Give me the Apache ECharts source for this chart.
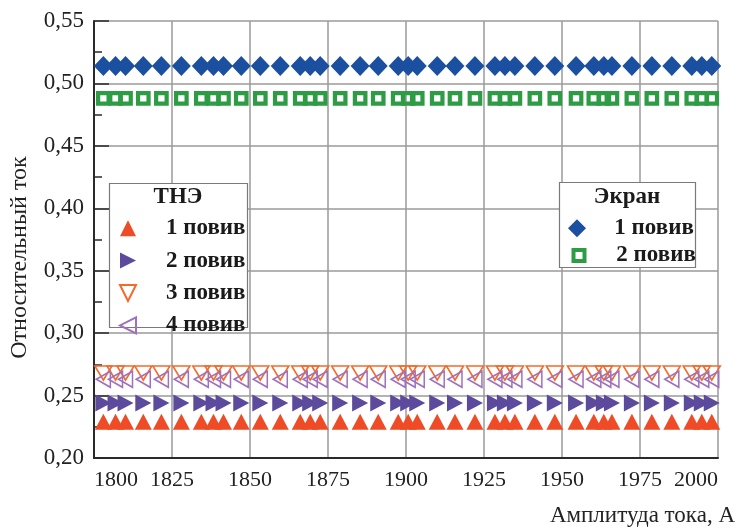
<!DOCTYPE html>
<html>
<head>
<meta charset="utf-8">
<script src="https://cdn.jsdelivr.net/npm/echarts@6/dist/echarts.min.js"></script>
<style>html,body{margin:0;padding:0;background:#fff}#c{width:741px;height:528px}</style>
</head>
<body>
<div id="c"></div>
<script>
// ---- data ----
const xValues = [1803.0, 1806.9, 1810.1, 1815.8, 1821.6, 1828.0, 1834.4, 1838.3, 1841.5, 1847.2,
  1853.3, 1859.7, 1866.1, 1869.3, 1872.5, 1878.9, 1885.3, 1891.1, 1897.5, 1900.7,
  1903.6, 1910.0, 1915.7, 1922.1, 1928.5, 1931.7, 1934.9, 1941.3, 1947.7, 1954.5,
  1960.2, 1963.4, 1966.0, 1972.4, 1978.8, 1985.2, 1991.6, 1994.8, 1998.0];

const tne1 = [0.229,0.229,0.229,0.229,0.229,0.229,0.229,0.229,0.229,0.229,
  0.229,0.229,0.229,0.229,0.229,0.229,0.229,0.229,0.229,0.229,
  0.229,0.229,0.229,0.229,0.229,0.229,0.229,0.229,0.229,0.229,
  0.229,0.229,0.229,0.229,0.229,0.229,0.229,0.229,0.229];
const tne2 = [0.244,0.244,0.244,0.244,0.244,0.244,0.244,0.244,0.244,0.244,
  0.244,0.244,0.244,0.244,0.244,0.244,0.244,0.244,0.244,0.244,
  0.244,0.244,0.244,0.244,0.244,0.244,0.244,0.244,0.244,0.244,
  0.244,0.244,0.244,0.244,0.244,0.244,0.244,0.244,0.244];
const tne3 = [0.268,0.268,0.268,0.268,0.268,0.268,0.268,0.268,0.268,0.268,
  0.268,0.268,0.268,0.268,0.268,0.268,0.268,0.268,0.268,0.268,
  0.268,0.268,0.268,0.268,0.268,0.268,0.268,0.268,0.268,0.268,
  0.268,0.268,0.268,0.268,0.268,0.268,0.268,0.268,0.268];
const tne4 = [0.263,0.263,0.263,0.263,0.263,0.263,0.263,0.263,0.263,0.263,
  0.263,0.263,0.263,0.263,0.263,0.263,0.263,0.263,0.263,0.263,
  0.263,0.263,0.263,0.263,0.263,0.263,0.263,0.263,0.263,0.263,
  0.263,0.263,0.263,0.263,0.263,0.263,0.263,0.263,0.263];
const ekr1 = [0.514,0.514,0.514,0.514,0.514,0.514,0.514,0.514,0.514,0.514,
  0.514,0.514,0.514,0.514,0.514,0.514,0.514,0.514,0.514,0.514,
  0.514,0.514,0.514,0.514,0.514,0.514,0.514,0.514,0.514,0.514,
  0.514,0.514,0.514,0.514,0.514,0.514,0.514,0.514,0.514];
const ekr2 = [0.488,0.488,0.488,0.488,0.488,0.488,0.488,0.488,0.488,0.488,
  0.488,0.488,0.488,0.488,0.488,0.488,0.488,0.488,0.488,0.488,
  0.488,0.488,0.488,0.488,0.488,0.488,0.488,0.488,0.488,0.488,
  0.488,0.488,0.488,0.488,0.488,0.488,0.488,0.488,0.488];

const seriesNames = ['1 повив', '2 повив', '3 повив', '4 повив'];
const ekrNames = ['1 повив ', '2 повив '];
const legendTitles = ['ТНЭ', 'Экран'];
const xAxisTitle = 'Амплитуда тока, А';
const yAxisTitle = 'Относительный ток';

// ---- chart ----
const FONT = 'Liberation Serif, DejaVu Serif, serif';
const pairs = ys => xValues.map((x, i) => [x, ys[i]]);
const TRI_UP = 'path://M5,0L10,10L0,10Z';
const TRI_DOWN = 'path://M0,0L10,0L5,10Z';
const TRI_RIGHT = 'path://M0,0L10,5L0,10Z';
const TRI_LEFT = 'path://M10,0L0,5L10,10Z';
const legendText = pad => ({fontFamily: FONT, fontSize: 23, fontWeight: 'bold', color: '#1a1a1a', lineHeight: 20, padding: [0, 0, 0, pad]});

const chart = echarts.init(document.getElementById('c'), null, {renderer: 'canvas'});
chart.setOption({
  animation: false,
  backgroundColor: '#fff',
  textStyle: {fontFamily: FONT},
  grid: {left: 93.5, right: 23, top: 21, bottom: 70, containLabel: false},
  xAxis: {
    type: 'value', min: 1800, max: 2000, interval: 25,
    name: xAxisTitle, nameLocation: 'end', nameGap: 17,
    nameTextStyle: {fontFamily: FONT, fontSize: 23, color: '#222', align: 'right', verticalAlign: 'top', padding: [46, 0, 0, 0]},
    axisLine: {show: true, lineStyle: {color: '#2a2a2a', width: 2}},
    axisTick: {show: false},
    axisLabel: {fontFamily: FONT, fontSize: 22, color: '#222', margin: 11, formatter: v => String(v),
      alignMinLabel: 'left', alignMaxLabel: 'right'},
    splitLine: {show: true, lineStyle: {color: '#9a9a9a', width: 1.5}}
  },
  yAxis: {
    type: 'value', min: 0.2, max: 0.55, interval: 0.05,
    name: yAxisTitle, nameLocation: 'middle', nameGap: 62, nameRotate: 90,
    nameTextStyle: {fontFamily: FONT, fontSize: 24, color: '#222', padding: [0, 36, 0, 0]},
    axisLine: {show: true, lineStyle: {color: '#2a2a2a', width: 2}},
    axisTick: {show: true, inside: true, length: 15, lineStyle: {color: '#2a2a2a', width: 1.5}},
    minorTick: {show: true, splitNumber: 2, length: 8, lineStyle: {color: '#2a2a2a', width: 1.5}},
    axisLabel: {fontFamily: FONT, fontSize: 23, color: '#222', margin: 10,
      formatter: v => v.toFixed(2).replace('.', ',')},
    splitLine: {show: true, lineStyle: {color: '#9a9a9a', width: 1.5}}
  },
  legend: [
    {
      data: seriesNames, orient: 'vertical', left: 119, top: 216.7, padding: 0,
      itemWidth: 16, itemHeight: 16, itemGap: 9.4, z: 10, selectedMode: false,
      textStyle: legendText(25)
    },
    {
      data: [ekrNames[0]], orient: 'vertical', left: 568, top: 216.7, padding: 0,
      itemWidth: 18, itemHeight: 18, z: 10, selectedMode: false,
      textStyle: legendText(23.3)
    },
    {
      data: [ekrNames[1]], orient: 'vertical', left: 571.5, top: 244, padding: 0,
      itemWidth: 11, itemHeight: 11, z: 10, selectedMode: false,
      itemStyle: {borderWidth: 4},
      textStyle: legendText(26.8)
    }
  ],
  graphic: [
    {type: 'rect', z: 8, shape: {x: 109.5, y: 183.5, width: 138, height: 144},
      style: {fill: '#fff', stroke: '#7a7a7a', lineWidth: 1.2}},
    {type: 'rect', z: 8, shape: {x: 559.5, y: 182.5, width: 136, height: 85},
      style: {fill: '#fff', stroke: '#7a7a7a', lineWidth: 1.2}},
    {type: 'text', z: 10, style: {text: legendTitles[0], x: 178, y: 197, align: 'center', verticalAlign: 'middle',
      font: 'bold 23px Liberation Serif, DejaVu Serif, serif', fill: '#1a1a1a'}},
    {type: 'text', z: 10, style: {text: legendTitles[1], x: 627, y: 197, align: 'center', verticalAlign: 'middle',
      font: 'bold 23px Liberation Serif, DejaVu Serif, serif', fill: '#1a1a1a'}}
  ],
  series: [
    {name: seriesNames[0], type: 'scatter', data: pairs(tne1), symbol: TRI_UP, symbolSize: [17, 16],
      itemStyle: {color: '#ee4b26', opacity: 1}},
    {name: seriesNames[1], type: 'scatter', data: pairs(tne2), symbol: TRI_RIGHT, symbolSize: [16, 17],
      itemStyle: {color: '#5c4a9c', opacity: 1}},
    {name: seriesNames[2], type: 'scatter', data: pairs(tne3), symbol: TRI_DOWN, symbolSize: [17, 14],
      itemStyle: {color: 'rgba(0,0,0,0)', borderColor: '#f26b2c', borderWidth: 1.6, opacity: 1}},
    {name: seriesNames[3], type: 'scatter', data: pairs(tne4), symbol: TRI_LEFT, symbolSize: [14, 16],
      itemStyle: {color: 'rgba(0,0,0,0)', borderColor: '#a070bf', borderWidth: 1.6, opacity: 1}},
    {name: ekrNames[0], type: 'scatter', data: pairs(ekr1), symbol: 'diamond', symbolSize: [19, 20],
      itemStyle: {color: '#1b4fa0', opacity: 1}},
    {name: ekrNames[1], type: 'scatter', data: pairs(ekr2), symbol: 'rect', symbolSize: 10.5,
      itemStyle: {color: 'rgba(0,0,0,0)', borderColor: '#2e9b45', borderWidth: 4.2, opacity: 1}}
  ]
});
</script>
</body>
</html>
